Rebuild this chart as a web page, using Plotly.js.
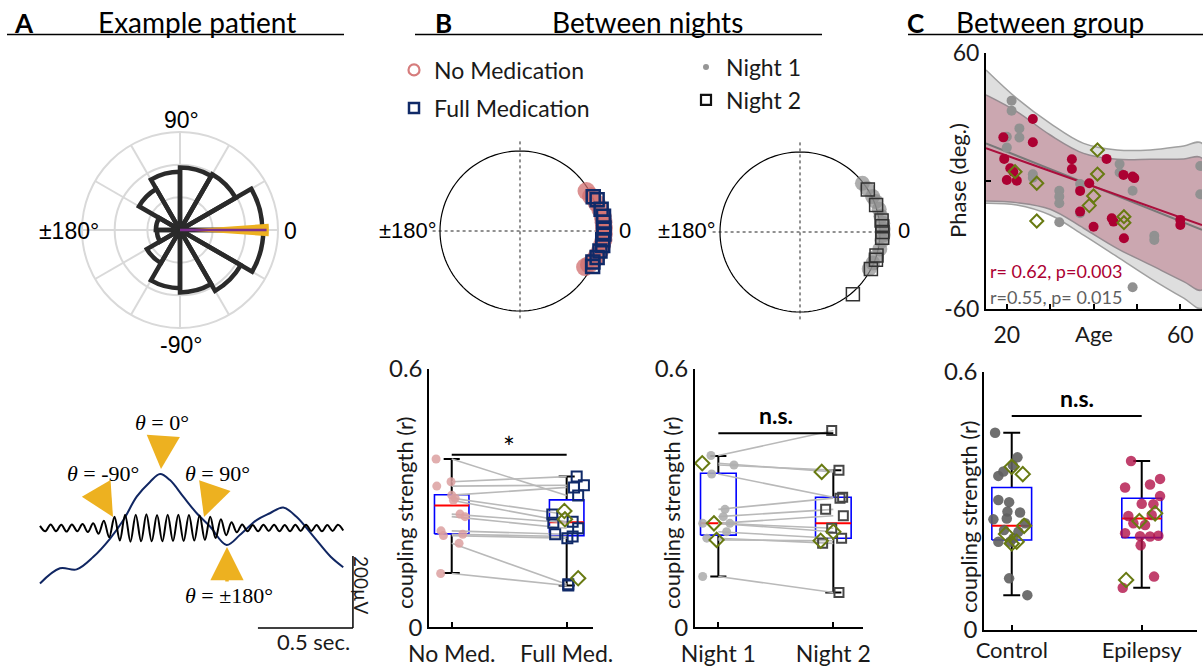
<!DOCTYPE html>
<html><head><meta charset="utf-8">
<script src="https://cdn.plot.ly/plotly-3.0.1.min.js"></script>
<style>html,body{margin:0;padding:0;background:#fff;}#chart{width:1203px;height:668px;}</style>
</head><body><div id="chart"></div>
<script>
// ================= DATA =================
// Panel A (top): rose histogram of SO-spindle phase (bin centre deg, bin height)
const roseBinCenters = [15,45,75,105,135,165,195,225,255,285,315,345];
const roseBinHeights = [2.52,1.97,1.91,1.78,1.45,0.74,0.71,1.17,1.78,1.91,2.15,2.55];
const roseBinWidth = 30;
const meanPhaseDeg = 0;
const meanPhaseLen = 2.65;
const phaseSpreadLen = 2.72;
const phaseSpreadWidth = 8;

// Panel A (bottom): example slow oscillation (s, µV) and spindle extrema (µV)
const slowT  = [0, 0.105, 0.193, 0.281, 0.368, 0.439, 0.509, 0.579, 0.632, 0.684, 0.754, 0.825, 0.895, 0.982, 1.053, 1.14, 1.21, 1.28, 1.35, 1.44, 1.53, 1.596];
const slowUV = [-154, -112, -115, -80, -30, 22, 87, 128, 150, 133, 87, 41, 4, -47, -19, 22, 41, 57, 31, -24, -80, -109];
const spindleStep = 0.028;
const spindleUV = [6,-9,10,-9,9,-10,10,-9,11,-11,13,-16,20,-26,31,-35,37,-38,37,-37,38,-37,36,-37,37,-36,37,-36,36,-35,35,-33,31,-28,24,-20,16,-12,10,-9,8,-9,9,-8,9,-9,8,-9,9,-8,9,-8,8,-9,8,-8,9,-7];
const scaleSec = 0.5, scaleUV = 200;

// Panel B (top): preferred phases (deg) and coupling radius
const noMedPhase   = [31, 26, 20, 15, 10, 6, 2, -2, -6, -10, -14, -18, -22, -26, -29];
const noMedR       = [0.97,0.99,1.02,1.04,1.05,1.05,1.05,1.05,1.05,1.04,1.03,1.01,0.99,0.96,0.93];
const fullMedPhase = [25, 22, 15, 10, 6, 2, -2, -6, -10, -14, -19, -23, -26];
const fullMedR     = [1.01,1.04,1.05,1.06,1.05,1.05,1.05,1.04,1.05,1.03,1.02,0.99,1.01];
const night1Phase  = [38, 33, 26, 22, 16, 11, 6, 2, -2, -6, -12, -18, -23, -28];
const night1R      = [0.99,1.0,1.01,1.02,1.03,1.03,1.04,1.04,1.04,1.03,1.02,1.0,0.99,0.98];
const night2Phase  = [32, 19.6, 8, 4, 0, -4, -17, -20, -27.6, -49.6];
const night2R      = [1.0,1.01,1.03,1.03,1.03,1.03,1.0,1.01,1.0,1.02];

// Panel B (bottom left): coupling strength, paired
const medCats = ['No Med.', 'Full Med.'];
const noMed   = [0.391, 0.338, 0.328, 0.307, 0.300, 0.295, 0.263, 0.257, 0.224, 0.216, 0.213, 0.195, 0.125];
const noMedJit= [-0.136, -0.006, -0.13, 0.0, 0.03, 0.015, 0.072, 0.116, -0.093, 0.096, -0.072, 0.064, -0.096];
const fullMed = [0.306, 0.350, 0.330, 0.325, 0.262, 0.245, 0.243, 0.230, 0.216, 0.211, 0.207, 0.100, 0.097];
const fullMedJit=[0.10, 0.087, 0.15, 0.064, -0.125, 0.052, -0.116, 0.10, -0.10, 0.052, 0.006, 0.014, 0.014];
const fullMedDiamond = [0.270, 0.251, 0.114];
const fullMedDiamondJit = [-0.02, -0.015, 0.1];
const medQ1 = [0.217, 0.213], medMedian = [0.283, 0.244], medQ3 = [0.308, 0.296], medLo = [0.126, 0.097], medHi = [0.391, 0.350];
const medSig = 0.401;

// Panel B (bottom right): night 1 vs night 2
const nightCats = ['Night 1', 'Night 2'];
const night1    = [0.399, 0.381, 0.377, 0.356, 0.274, 0.257, 0.2415, 0.2415, 0.2415, 0.222, 0.207, 0.203, 0.118];
const night1Jit = [-0.064, -0.14, 0.136, -0.058, 0.058, 0.043, -0.136, 0.10, -0.038, 0.072, -0.10, -0.015, -0.136];
const night2    = [0.457, 0.361, 0.365, 0.302, 0.300, 0.274, 0.259, 0.230, 0.222, 0.207, 0.195, 0.201, 0.081];
const night2Jit = [-0.014, -0.101, 0.049, 0.081, 0.058, -0.067, 0.087, -0.014, 0.0, 0.072, -0.093, -0.11, 0.049];
const nightDiamond = [0,1,0,0,0,0,0,0,1,0,0,1,0];
const nightQ1 = [0.214, 0.207], nightMedian = [0.2415, 0.2415], nightQ3 = [0.358, 0.302], nightLo = [0.118, 0.081], nightHi = [0.398, 0.365];
const nightSig = 0.4506;

// Panel C (top): age vs phase
const grpAgeEpi   = [26, 26, 19.2, 19.4, 20.8, 21.5, 20, 22.3, 35, 35, 36.9, 39, 43, 46.9, 49, 49.4, 36.9, 40, 44.2, 44.6, 47, 60, 60];
const grpPhaseEpi = [29.2, 18.3, 20.6, 10.5, 6.1, 4.5, 0.6, 0.3, 10.3, 5.8, -4.5, -0.9, 10.5, 3, 2.2, 1.5, -14.2, -21.3, -17.3, -18.9, -26.7, -18.1, -20.5];
const grpAgeCtl   = [21.1, 21.1, 22.9, 22.9, 20, 20, 26, 26, 32.1, 32.1, 32.1, 32.1, 36.9, 36.9, 46, 46, 49, 54, 54, 49, 64.6, 64.6];
const grpPhaseCtl = [37.8, 33.1, 24.8, 20.5, 20.9, 15.8, 3.3, 1.7, -4.4, -7.2, -10.3, -19.2, -1.3, -15, 8.1, 4.1, -4.4, -25.5, -27.5, -49.7, 7.2, -6.1];
const grpAgeDia   = [21.9, 26.9, 26.9, 40.9, 40.9, 40, 39, 47, 47];
const grpPhaseDia = [4.5, -0.9, -18.6, 14.7, 3.4, -6.9, -11.4, -16.6, -19.4];
const bandAge   = [15.2, 22.3, 30, 37.7, 45.4, 53.1, 60.8, 65];
const ctlUpper  = [52.2, 38.9, 27.2, 17.8, 14.7, 14.7, 16.6, 17.8];
const ctlLower  = [-10.3, -11.1, -15.8, -25.2, -35.3, -45.5, -54.8, -59.5];
const epiUpper  = [40.5, 32.7, 21.7, 13.1, 10.3, 10.3, 10.5, 10.8];
const epiLower  = [-9.2, -10, -13.1, -22, -31.4, -39.2, -47, -50.9];
const fitAge    = [15.2, 65];
const fitEpi    = [15.5, -20.5];
const fitCtl    = [17.8, -22.8];
const xTickAge  = [20, 30, 40, 50, 60];

// Panel C (bottom): control vs epilepsy
const grpCats = ['Control', 'Epilepsy'];
const control    = [0.458, 0.401, 0.383, 0.368, 0.358, 0.302, 0.297, 0.273, 0.275, 0.257, 0.259, 0.248, 0.232, 0.228, 0.213, 0.205, 0.205, 0.120, 0.081];
const controlJit = [-0.128, 0.044, 0.008, -0.064, -0.103, -0.103, -0.02, 0.064, -0.033, -0.141, -0.038, 0.103, -0.059, 0.051, 0.013, -0.103, -0.013, -0.02, 0.12];
const controlDia = [0.379, 0.362, 0.242, 0.223, 0.201, 0.205];
const controlDiaJit = [0.0, 0.085, 0.095, -0.044, 0.0, 0.038];
const epilepsy    = [0.3925, 0.351, 0.331, 0.338, 0.311, 0.293, 0.292, 0.265, 0.267, 0.248, 0.244, 0.225, 0.218, 0.217, 0.219, 0.197, 0.124, 0.098];
const epilepsyJit = [-0.082, 0.141, -0.128, 0.064, 0.141, 0.0, 0.09, -0.103, 0.077, -0.064, 0.026, -0.128, -0.013, 0.064, 0.128, -0.008, 0.095, -0.146];
const epilepsyDia = [0.253, 0.271, 0.116];
const epilepsyDiaJit = [-0.018, 0.103, -0.12];
const grpQ1 = [0.209, 0.2145], grpMedian = [0.242, 0.259], grpQ3 = [0.331, 0.306], grpLo = [0.081, 0.098], grpHi = [0.458, 0.3925];
const grpSig = 0.497;

// ================= HELPERS =================
const W = 1203, H = 668;
const X = p => p / W, Y = p => 1 - p / H;
const FONT = 'Lato, "Open Sans", sans-serif';
const HELV = '"Liberation Sans", Arial, sans-serif';
const INK = '#1a1a1a';
const OLIVE = 'rgb(104,122,18)';
const traces = [];
const annotations = [];
const shapes = [];

function boxplot(xa, ya, q1, med, q3, lo, hi, half, cap) {
  const xs = [], ys = [], wx = [], wy = [], mx = [], my = [];
  for (let i = 0; i < 2; i++) {
    const c = i + 1;
    xs.push(c - half, c + half, c + half, c - half, c - half, null);
    ys.push(q1[i], q1[i], q3[i], q3[i], q1[i], null);
    wx.push(c, c, null, c, c, null, c - cap, c + cap, null, c - cap, c + cap, null);
    wy.push(q3[i], hi[i], null, q1[i], lo[i], null, hi[i], hi[i], null, lo[i], lo[i], null);
    mx.push(c - half, c + half, null);
    my.push(med[i], med[i], null);
  }
  traces.push({type: 'scatter', xaxis: xa, yaxis: ya, x: wx, y: wy, mode: 'lines', line: {color: '#000', width: 2}, showlegend: false, hoverinfo: 'skip'});
  traces.push({type: 'scatter', xaxis: xa, yaxis: ya, x: xs, y: ys, mode: 'lines', line: {color: 'rgb(0,0,255)', width: 1.6}, showlegend: false, hoverinfo: 'skip'});
  traces.push({type: 'scatter', xaxis: xa, yaxis: ya, x: mx, y: my, mode: 'lines', line: {color: 'rgb(255,0,0)', width: 2}, showlegend: false, hoverinfo: 'skip'});
}
function pairLines(xa, ya, a, b) {
  const x = [], y = [];
  a.forEach((v, i) => { x.push(1, 2, null); y.push(v, b[i], null); });
  traces.push({type: 'scatter', xaxis: xa, yaxis: ya, x, y, mode: 'lines', line: {color: 'rgb(185,185,185)', width: 1.6}, showlegend: false, hoverinfo: 'skip'});
}
function pts(xa, ya, cat, vals, jit, marker) {
  traces.push({type: 'scatter', xaxis: xa, yaxis: ya, x: vals.map((v, i) => cat + jit[i]), y: vals, mode: 'markers', marker, showlegend: false, hoverinfo: 'skip', cliponaxis: false});
}
function sigBar(xa, ya, v, label, bold) {
  traces.push({type: 'scatter', xaxis: xa, yaxis: ya, x: [1, 2], y: [v, v], mode: 'lines', line: {color: '#000', width: 2}, showlegend: false, hoverinfo: 'skip'});
  annotations.push({xref: xa, yref: ya, x: 1.5, y: v, text: bold ? '<b>' + label + '</b>' : label, showarrow: false, xanchor: 'center', yanchor: 'bottom', yshift: bold ? 2 : -11, font: {family: FONT, size: bold ? 23 : 28, color: '#000'}});
}
const circle = []; for (let a = 0; a <= 360; a += 3) circle.push(a);

// ================= PANEL A TOP (rose) =================
traces.push({type: 'barpolar', subplot: 'polar', r: roseBinHeights, theta: roseBinCenters, width: roseBinCenters.map(() => roseBinWidth),
  marker: {color: 'rgba(0,0,0,0)', line: {color: '#2a2a2a', width: 4.5}}, showlegend: false, hoverinfo: 'skip'});
traces.push({type: 'barpolar', subplot: 'polar', r: [phaseSpreadLen], theta: [meanPhaseDeg], width: [phaseSpreadWidth],
  marker: {color: 'rgb(237,177,32)', line: {width: 0}}, showlegend: false, hoverinfo: 'skip'});
traces.push({type: 'scatterpolar', subplot: 'polar', r: [0, meanPhaseLen], theta: [meanPhaseDeg, meanPhaseDeg], mode: 'lines',
  line: {color: 'rgb(126,47,142)', width: 2.5}, showlegend: false, hoverinfo: 'skip'});

// ================= PANEL A BOTTOM (waveform) =================
traces.push({type: 'scatter', xaxis: 'x', yaxis: 'y', x: slowT, y: slowUV, mode: 'lines', line: {color: 'rgb(16,38,98)', width: 2, shape: 'spline', smoothing: 1}, showlegend: false, hoverinfo: 'skip'});
traces.push({type: 'scatter', xaxis: 'x', yaxis: 'y', x: spindleUV.map((v, i) => i * spindleStep), y: spindleUV, mode: 'lines', line: {color: '#000', width: 2, shape: 'spline', smoothing: 1}, showlegend: false, hoverinfo: 'skip'});
const sbX1 = 1.647, sbY0 = -278;
shapes.push({type: 'line', xref: 'x', yref: 'y', x0: sbX1 - scaleSec, x1: sbX1, y0: sbY0, y1: sbY0, line: {color: '#000', width: 1.5}});
shapes.push({type: 'line', xref: 'x', yref: 'y', x0: sbX1, x1: sbX1, y0: sbY0, y1: sbY0 + scaleUV, line: {color: '#000', width: 1.5}});
annotations.push({xref: 'paper', yref: 'paper', x: X(313), y: Y(641), text: '0.5 sec.', showarrow: false, font: {family: FONT, size: 22, color: INK}});
annotations.push({xref: 'paper', yref: 'paper', x: X(362), y: Y(585), text: '200µV', textangle: 90, showarrow: false, font: {family: FONT, size: 19, color: INK}});
const theta = [
  {t: '<i>θ</i> = 0°', cx: 162, cy: 422, tip: [161, 469], tail: [163, 440]},
  {t: '<i>θ</i> = -90°', cx: 103, cy: 473, tip: [113, 517], tail: [96, 488]},
  {t: '<i>θ</i> = 90°', cx: 217, cy: 473, tip: [204, 517], tail: [214, 488]},
  {t: '<i>θ</i> = ±180°', cx: 229, cy: 595, tip: [227, 547], tail: [227, 583]}
];
theta.forEach(o => {
  annotations.push({xref: 'paper', yref: 'paper', x: X(o.cx), y: Y(o.cy), text: o.t, showarrow: false, font: {family: '"Liberation Serif", "DejaVu Serif", serif', size: 22, color: '#000'}});
  annotations.push({xref: 'paper', yref: 'paper', x: X(o.tip[0]), y: Y(o.tip[1]), ax: o.tail[0] - o.tip[0], ay: o.tail[1] - o.tip[1], text: '', showarrow: true,
    arrowhead: 2, arrowsize: 1.9, arrowwidth: 3.5, arrowcolor: 'rgb(237,177,32)'});
});

// ================= PANEL B TOP (phase circles) =================
function phaseCircle(sub) {
  traces.push({type: 'scatterpolar', subplot: sub, r: circle.map(() => 1), theta: circle, mode: 'lines', line: {color: '#000', width: 1.2}, showlegend: false, hoverinfo: 'skip'});
  traces.push({type: 'scatterpolar', subplot: sub, r: [1.12, 0, 1.12, null, 1.12, 0, 1.12], theta: [0, 0, 180, null, 90, 90, 270], mode: 'lines', line: {color: '#222', width: 1, dash: 'dot'}, showlegend: false, hoverinfo: 'skip'});
}
phaseCircle('polar2');
traces.push({type: 'scatterpolar', subplot: 'polar2', r: noMedR, theta: noMedPhase, mode: 'markers', marker: {size: 18, color: 'rgba(208,110,110,0.75)'}, showlegend: false, hoverinfo: 'skip'});
traces.push({type: 'scatterpolar', subplot: 'polar2', r: fullMedR, theta: fullMedPhase, mode: 'markers', marker: {symbol: 'square-open', size: 13, color: 'rgb(16,42,104)', line: {width: 2.5}}, showlegend: false, hoverinfo: 'skip'});
phaseCircle('polar3');
traces.push({type: 'scatterpolar', subplot: 'polar3', r: night1R, theta: night1Phase, mode: 'markers', marker: {size: 15, color: 'rgba(140,140,140,0.7)'}, showlegend: false, hoverinfo: 'skip'});
traces.push({type: 'scatterpolar', subplot: 'polar3', r: night2R, theta: night2Phase, mode: 'markers', marker: {symbol: 'square-open', size: 13, color: 'rgb(50,50,50)', line: {width: 1.5}}, showlegend: false, hoverinfo: 'skip'});
// legends
traces.push({type: 'scatter', xaxis: 'x', yaxis: 'y', x: [null], y: [null], mode: 'markers', name: 'No Medication', legend: 'legend', marker: {symbol: 'circle-open', size: 11, color: 'rgb(214,125,125)', line: {width: 2.2}}});
traces.push({type: 'scatter', xaxis: 'x', yaxis: 'y', x: [null], y: [null], mode: 'markers', name: 'Full Medication', legend: 'legend2', marker: {symbol: 'square-open', size: 10, color: 'rgb(16,42,104)', line: {width: 2.5}}});
traces.push({type: 'scatter', xaxis: 'x', yaxis: 'y', x: [null], y: [null], mode: 'markers', name: 'Night 1', legend: 'legend3', marker: {symbol: 'circle', size: 6, color: 'rgb(150,150,150)'}});
traces.push({type: 'scatter', xaxis: 'x', yaxis: 'y', x: [null], y: [null], mode: 'markers', name: 'Night 2', legend: 'legend4', marker: {symbol: 'square-open', size: 10, color: '#111', line: {width: 2.2}}});

// ================= PANEL B BOTTOM =================
boxplot('x2', 'y2', medQ1, medMedian, medQ3, medLo, medHi, 0.15, 0.07);
pairLines('x2', 'y2', noMed, fullMed);
pts('x2', 'y2', 1, noMed, noMedJit, {size: 9, color: 'rgba(220,160,160,0.85)'});
pts('x2', 'y2', 2, fullMed, fullMedJit, {symbol: 'square-open', size: 10, color: 'rgb(16,42,104)', line: {width: 2}});
pts('x2', 'y2', 2, fullMedDiamond, fullMedDiamondJit, {symbol: 'diamond-open', size: 11, color: OLIVE, line: {width: 2}});
sigBar('x2', 'y2', medSig, '*', false);

boxplot('x3', 'y3', nightQ1, nightMedian, nightQ3, nightLo, nightHi, 0.155, 0.07);
pairLines('x3', 'y3', night1, night2);
const sel = (arr, f) => arr.filter((v, i) => nightDiamond[i] === f);
pts('x3', 'y3', 1, sel(night1, 0), sel(night1Jit, 0), {size: 9, color: 'rgba(175,175,175,0.9)'});
pts('x3', 'y3', 2, sel(night2, 0), sel(night2Jit, 0), {symbol: 'square-open', size: 9, color: 'rgb(70,70,70)', line: {width: 2}});
pts('x3', 'y3', 1, sel(night1, 1), sel(night1Jit, 1), {symbol: 'diamond-open', size: 11, color: OLIVE, line: {width: 2}});
pts('x3', 'y3', 2, sel(night2, 1), sel(night2Jit, 1), {symbol: 'diamond-open', size: 11, color: OLIVE, line: {width: 2}});
sigBar('x3', 'y3', nightSig, 'n.s.', true);

// ================= PANEL C TOP =================
const bandPoly = (up, lo) => ({x: bandAge.concat(bandAge.slice().reverse()), y: up.concat(lo.slice().reverse())});
const gb = bandPoly(ctlUpper, ctlLower), pb = bandPoly(epiUpper, epiLower);
traces.push({type: 'scatter', xaxis: 'x4', yaxis: 'y4', x: gb.x, y: gb.y, mode: 'lines', fill: 'toself', fillcolor: 'rgb(222,222,222)', line: {color: 'rgb(160,160,160)', width: 1.5, shape: 'spline'}, showlegend: false, hoverinfo: 'skip'});
traces.push({type: 'scatter', xaxis: 'x4', yaxis: 'y4', x: pb.x, y: pb.y, mode: 'lines', fill: 'toself', fillcolor: 'rgba(180,100,120,0.45)', line: {color: 'rgb(150,140,145)', width: 1.5, shape: 'spline'}, showlegend: false, hoverinfo: 'skip'});
traces.push({type: 'scatter', xaxis: 'x4', yaxis: 'y4', x: fitAge, y: fitCtl, mode: 'lines', line: {color: 'rgb(120,120,120)', width: 2}, showlegend: false, hoverinfo: 'skip'});
traces.push({type: 'scatter', xaxis: 'x4', yaxis: 'y4', x: fitAge, y: fitEpi, mode: 'lines', line: {color: 'rgb(170,15,60)', width: 2}, showlegend: false, hoverinfo: 'skip'});
traces.push({type: 'scatter', xaxis: 'x4', yaxis: 'y4', x: grpAgeCtl, y: grpPhaseCtl, mode: 'markers', marker: {size: 10, color: 'rgb(145,145,145)'}, showlegend: false, hoverinfo: 'skip'});
traces.push({type: 'scatter', xaxis: 'x4', yaxis: 'y4', x: grpAgeEpi, y: grpPhaseEpi, mode: 'markers', marker: {size: 10, color: 'rgb(172,0,50)'}, showlegend: false, hoverinfo: 'skip'});
traces.push({type: 'scatter', xaxis: 'x4', yaxis: 'y4', x: grpAgeDia, y: grpPhaseDia, mode: 'markers', marker: {symbol: 'diamond-open', size: 10, color: OLIVE, line: {width: 2}}, showlegend: false, hoverinfo: 'skip'});
annotations.push({xref: 'paper', yref: 'paper', x: X(988), y: Y(271), xanchor: 'left', text: 'r= 0.62, p=0.003', showarrow: false, font: {family: FONT, size: 18, color: 'rgb(172,0,50)'}});
annotations.push({xref: 'paper', yref: 'paper', x: X(988), y: Y(297), xanchor: 'left', text: 'r=0.55, p= 0.015', showarrow: false, font: {family: FONT, size: 18, color: 'rgb(95,95,95)'}});
annotations.push({xref: 'paper', yref: 'paper', x: X(1094), y: Y(333), text: 'Age', showarrow: false, font: {family: FONT, size: 22, color: INK}});
annotations.push({xref: 'paper', yref: 'paper', x: X(957), y: Y(181), text: 'Phase (deg.)', textangle: -90, showarrow: false, font: {family: FONT, size: 22, color: INK}});

// ================= PANEL C BOTTOM =================
boxplot('x5', 'y5', grpQ1, grpMedian, grpQ3, grpLo, grpHi, 0.153, 0.065);
pts('x5', 'y5', 1, control, controlJit, {size: 10.5, color: 'rgba(95,95,95,0.9)'});
pts('x5', 'y5', 2, epilepsy, epilepsyJit, {size: 10.5, color: 'rgba(178,18,72,0.8)'});
pts('x5', 'y5', 1, controlDia, controlDiaJit, {symbol: 'diamond-open', size: 11, color: OLIVE, line: {width: 2}});
pts('x5', 'y5', 2, epilepsyDia, epilepsyDiaJit, {symbol: 'diamond-open', size: 11, color: OLIVE, line: {width: 2}});
sigBar('x5', 'y5', grpSig, 'n.s.', true);

// y titles for box panels
[[404, 513], [671, 513], [968, 517]].forEach(p => annotations.push({xref: 'paper', yref: 'paper', x: X(p[0]), y: Y(p[1]), text: 'coupling strength (r)', textangle: -90, showarrow: false, font: {family: FONT, size: 22, color: INK}}));

// ================= HEADERS =================
const hdr = [[24, 'A'], [443, 'B'], [915, 'C']];
hdr.forEach(h => annotations.push({xref: 'paper', yref: 'paper', x: X(h[0]), y: Y(23), text: '<b>' + h[1] + '</b>', showarrow: false, font: {family: FONT, size: 26, color: '#000'}}));
[[197, 'Example patient'], [647, 'Between nights'], [1050, 'Between group']].forEach(h => annotations.push({xref: 'paper', yref: 'paper', x: X(h[0]), y: Y(22), text: h[1], showarrow: false, font: {family: FONT, size: 28, color: '#000'}}));
[[7, 344], [415, 822], [908, 1203]].forEach(s => shapes.push({type: 'line', xref: 'paper', yref: 'paper', x0: X(s[0]), x1: X(s[1]), y0: Y(34.5), y1: Y(34.5), line: {color: '#000', width: 1.5}}));

// polar labels
const pl = (x, y, t, xa, sz) => annotations.push({xref: 'paper', yref: 'paper', x: X(x), y: Y(y), text: t, xanchor: xa || 'center', showarrow: false, font: {family: HELV, size: sz || 23, color: '#000'}});
pl(181, 120, '90°'); pl(282, 231, '0', 'left'); pl(101, 231, '±180°', 'right'); pl(181, 345, '-90°');
pl(439, 231, '±180°', 'right', 22); pl(617, 231, '0', 'left', 22);
pl(718, 231, '±180°', 'right', 22); pl(896, 231, '0', 'left', 22);

// explicit anchors (paper annotations otherwise auto-anchor to nearest side)
annotations.forEach(a => { if (!a.xanchor) a.xanchor = 'center'; if (!a.yanchor) a.yanchor = 'middle'; });

// ================= LAYOUT =================
const boxAxisX = (d, r, cats, so) => ({domain: [X(d[0]), X(d[1])], range: r, tickvals: [1, 2], ticktext: cats, ticks: 'inside', ticklen: 5, tickwidth: 2, tickcolor: '#000', showline: true, linecolor: '#000', linewidth: 2, showgrid: false, zeroline: false, tickfont: {family: FONT, size: 23, color: INK}, ticklabelstandoff: so, fixedrange: true});
const boxAxisY = (d, anchor) => ({domain: [Y(d[1]), Y(d[0])], range: [0, 0.6], tickvals: [0, 0.6], ticktext: ['0', '0.6'], ticks: 'inside', ticklen: 5, tickwidth: 2, tickcolor: '#000', showline: true, linecolor: '#000', linewidth: 2, showgrid: false, zeroline: false, tickfont: {family: FONT, size: 24, color: INK}, anchor, fixedrange: true});
const angTicks = [0,30,60,90,120,150,180,210,240,270,300,330];
const legendBase = (x, y) => ({x: X(x), y: Y(y), xanchor: 'left', yanchor: 'middle', bgcolor: 'rgba(0,0,0,0)', borderwidth: 0, font: {family: FONT, size: 23, color: INK}, itemwidth: 30});

const layout = {
  width: W, height: H, margin: {l: 0, r: 0, t: 0, b: 0}, paper_bgcolor: '#fff', plot_bgcolor: 'rgba(0,0,0,0)',
  font: {family: FONT, color: INK}, showlegend: true,
  legend: legendBase(394, 70), legend2: legendBase(394, 108), legend3: legendBase(686, 67), legend4: legendBase(686, 100),
  polar: {domain: {x: [X(82), X(278)], y: [Y(328), Y(132)]}, bgcolor: '#fff', barmode: 'overlay',
    radialaxis: {range: [0, 3], tickvals: [1, 2, 3], showticklabels: false, ticks: '', showline: false, gridcolor: 'rgb(217,217,217)', gridwidth: 2},
    angularaxis: {tickvals: angTicks, showticklabels: false, ticks: '', gridcolor: 'rgb(217,217,217)', gridwidth: 2, showline: true, linecolor: 'rgb(217,217,217)', linewidth: 2}},
  polar2: {domain: {x: [X(420), X(620)], y: [Y(331), Y(131)]}, bgcolor: 'rgba(0,0,0,0)', radialaxis: {visible: false, range: [0, 1.25]}, angularaxis: {visible: false}},
  polar3: {domain: {x: [X(700), X(900)], y: [Y(332), Y(132)]}, bgcolor: 'rgba(0,0,0,0)', radialaxis: {visible: false, range: [0, 1.25]}, angularaxis: {visible: false}},
  xaxis: {domain: [X(30), X(380)], range: [(30 - 40) / 190, (380 - 40) / 190], visible: false, fixedrange: true},
  yaxis: {domain: [Y(650), Y(400)], range: [(528 - 650) * 2.778, (528 - 400) * 2.778], visible: false, fixedrange: true},
  xaxis2: Object.assign(boxAxisX([429.3, 593], [0.805, 2.229], medCats, 5), {anchor: 'y2'}),
  yaxis2: boxAxisY([369, 627.3], 'x2'),
  xaxis3: Object.assign(boxAxisX([695, 863], [0.797, 2.258], nightCats, 5), {anchor: 'y3'}),
  yaxis3: boxAxisY([369, 627.3], 'x3'),
  xaxis4: {domain: [X(986), X(1202)], range: [15.2, 65], anchor: 'y4', tickvals: xTickAge, ticktext: ['20', '', '', '', '60'], ticks: 'inside', ticklen: 5, tickwidth: 2, tickcolor: '#000', showline: true, linecolor: '#000', linewidth: 2, showgrid: false, zeroline: false, tickfont: {family: FONT, size: 23, color: INK}, ticklabelstandoff: 4, fixedrange: true},
  yaxis4: {domain: [Y(309.3), Y(53.3)], range: [-60, 60], anchor: 'x4', tickvals: [-60, 0, 60], ticktext: ['-60', '', '60'], ticks: 'inside', ticklen: 5, tickwidth: 2, tickcolor: '#000', showline: true, linecolor: '#000', linewidth: 2, showgrid: false, zeroline: false, tickfont: {family: FONT, size: 23, color: INK}, fixedrange: true},
  xaxis5: Object.assign(boxAxisX([984.3, 1196.7], [0.789, 2.423], grpCats, 0), {anchor: 'y5', tickfont: {family: FONT, size: 22, color: INK}}),
  yaxis5: boxAxisY([371.7, 630], 'x5'),
  annotations, shapes
};
Plotly.newPlot('chart', traces, layout, {staticPlot: true, displayModeBar: false});
</script></body></html>
